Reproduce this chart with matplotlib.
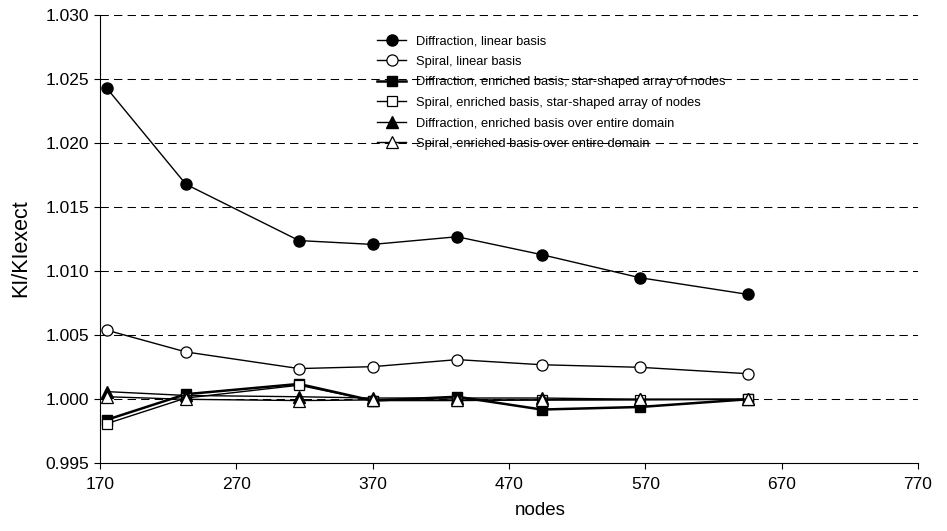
import numpy as np
import matplotlib
matplotlib.use("Agg")
import matplotlib.pyplot as plt

plt.rcParams['font.family'] = ['Liberation Sans', 'DejaVu Sans']

# node counts of the meshes
nodes = [175, 233, 316, 370, 432, 494, 566, 645]

diff_linear = [1.0243, 1.0168, 1.0124, 1.0121, 1.0127, 1.0113, 1.0095, 1.0082]
spiral_linear = [1.0054, 1.0037, 1.0024, 1.00255, 1.0031, 1.0027, 1.0025, 1.0020]
diff_star = [0.9984, 1.0004, 1.0012, 0.9999, 1.0002, 0.9992, 0.9994, 1.0000]
spiral_star = [0.9981, 1.0001, 1.0011, 0.9999, 0.9999, 0.99995, 0.99995, 1.0000]
diff_entire = [1.0006, 1.0003, 1.0002, 1.0001, 1.0001, 1.0001, 1.0000, 1.0000]
spiral_entire = [1.0002, 1.0000, 0.9999, 0.99995, 0.99995, 0.99995, 1.0000, 1.0000]

labels = ['Diffraction, linear basis',
          'Spiral, linear basis',
          'Diffraction, enriched basis, star-shaped array of nodes',
          'Spiral, enriched basis, star-shaped array of nodes',
          'Diffraction, enriched basis over entire domain',
          'Spiral, enriched basis over entire domain']

yticks = [0.995, 1.000, 1.005, 1.010, 1.015, 1.020, 1.025, 1.030]
xticks = [170, 270, 370, 470, 570, 670, 770]

fig = plt.figure(figsize=(9.47, 5.31), dpi=100)
ax = fig.add_axes([100/947, 1-463.3/531, 818/947, 448/531])

for yv in yticks[1:]:
    ax.axhline(yv, color='black', lw=0.75, linestyle=(0, (8, 5)), zorder=1)

ax.plot(nodes, diff_linear, color='black', lw=1, marker='o', ms=8,
        mfc='black', mec='black', label=labels[0], zorder=3)
ax.plot(nodes, spiral_linear, color='black', lw=1, marker='o', ms=8,
        mfc='white', mec='black', mew=0.9, label=labels[1], zorder=3)
ax.plot(nodes, diff_star, color='black', lw=1.8, marker='s', ms=7.5,
        mfc='black', mec='black', label=labels[2], zorder=3)
ax.plot(nodes, spiral_star, color='black', lw=1, marker='s', ms=7.5,
        mfc='white', mec='black', mew=0.9, label=labels[3], zorder=3)
ax.plot(nodes, diff_entire, color='black', lw=1, marker='^', ms=8,
        mfc='black', mec='black', label=labels[4], zorder=3)
ax.plot(nodes, spiral_entire, color='black', lw=1, marker='^', ms=8,
        mfc='white', mec='black', mew=0.9, label=labels[5], zorder=3)

ax.set_xlim(170, 770)
ax.set_ylim(0.995, 1.030)
ax.set_xticks(xticks)
ax.set_yticks(yticks)
ax.set_yticklabels(['%.3f' % v for v in yticks])
ax.tick_params(direction='out', length=4, width=0.8, labelsize=12.5, colors='black')
ax.tick_params(axis='x', pad=6)
ax.spines['top'].set_visible(False)
ax.spines['right'].set_visible(False)
ax.set_xlabel('nodes', fontsize=13.5)
ax.set_ylabel('KI/KIexect', fontsize=15.5)
ax.xaxis.set_label_coords(440/818, -39/448)
ax.yaxis.set_label_coords(-69/818, 215/448)

leg = ax.legend(loc='upper left', bbox_to_anchor=(377/947, 1-35/531),
                bbox_transform=fig.transFigure, frameon=False, fontsize=9.3,
                handlelength=2.25, handletextpad=0.8, labelspacing=0.66,
                borderpad=0, borderaxespad=0)

fig.savefig('out.png', dpi=100)
